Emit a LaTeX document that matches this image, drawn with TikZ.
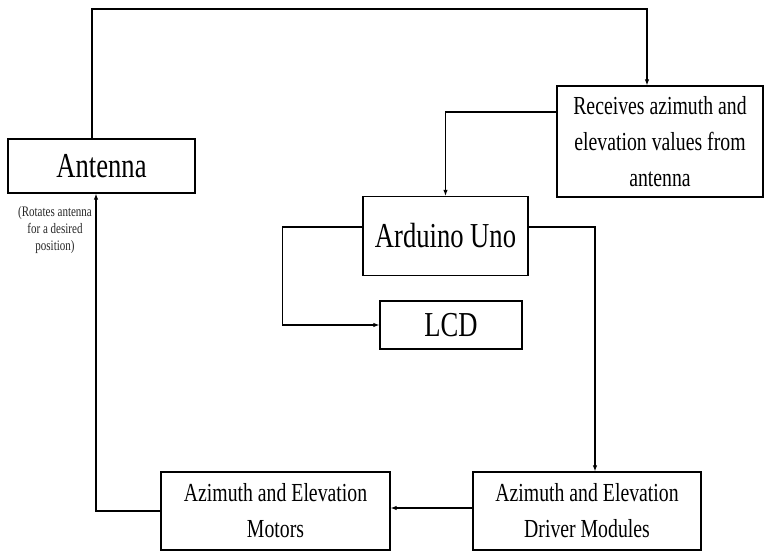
\documentclass[tikz,border=0pt]{standalone}
\usepackage{fontspec}
\setmainfont[FakeStretch=0.76]{Liberation Serif}
\usepackage{tikz}
\usetikzlibrary{arrows.meta,positioning,calc}

\begin{document}
\begin{tikzpicture}[x=1pt, y=-1pt, >={Latex[length=6pt,width=4.5pt]}, line width=1.1pt,
  box/.style={draw, line width=1.3pt, align=center, inner sep=2pt},
  big/.style={box, font=\fontsize{35}{40}\selectfont},
  small/.style={box, font=\fontsize{26}{36}\selectfont},
  note/.style={align=center, inner sep=0pt, font=\fontsize{14.5}{17}\selectfont, text=black!85}]
  \useasboundingbox (0,0) rectangle (764,551);
  \node[big, minimum width=187pt, minimum height=54pt](ant) at (101.5,166){Antenna};
  \node[small, minimum width=206pt, minimum height=111pt](recv) at (660,141.5){Receives azimuth and\\ elevation values from\\ antenna};
  \node[big, minimum width=165pt, minimum height=79pt](ard) at (445.5,236){Arduino Uno};
  \node[big, minimum width=142pt, minimum height=48pt](lcd) at (451,325){LCD};
  \node[small, minimum width=228pt, minimum height=78pt](drv) at (587,511){Azimuth and Elevation\\ Driver Modules};
  \node[small, minimum width=229pt, minimum height=78pt](mot) at (275.5,511){Azimuth and Elevation\\ Motors};
  \node[note](rot) at (55,230){(Rotates antenna\\ for a desired\\ position)};
  \coordinate (top) at (370,9);
  \draw[->]([xshift=-9.5pt]ant.north) |- (top) -| ([xshift=-13pt]recv.north);
  \draw[->]([yshift=29.5pt]recv.west) -| (ard.north);
  \draw[->]([yshift=9pt]ard.west) -- ++(-80,0) |- (lcd.west);
  \draw[->]([yshift=9pt]ard.east) -| ([xshift=8pt]drv.north);
  \draw[->]([yshift=3pt]drv.west) -- ([yshift=3pt]mot.east);
  \draw[->](mot.west) -| ([xshift=-5.5pt]ant.south);
\end{tikzpicture}
\end{document}
